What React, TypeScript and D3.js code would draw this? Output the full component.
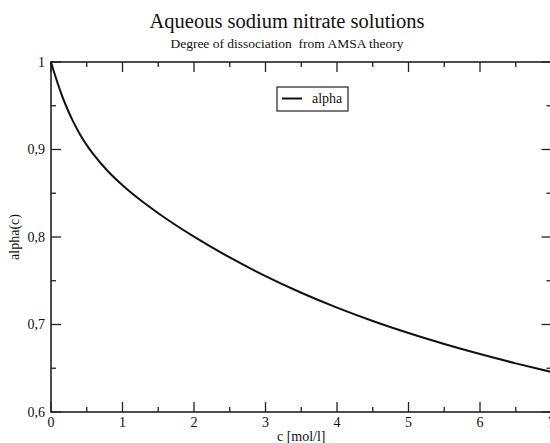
import React from "react";
import * as d3 from "d3";

const concentration = [0, 0.05, 0.1, 0.15, 0.2, 0.3, 0.4, 0.5, 0.6, 0.8, 1, 1.25, 1.5, 2, 2.5, 3, 3.5, 4, 4.5, 5, 5.5, 6, 6.5, 7];
const alphaValues = [1, 0.9865, 0.974, 0.9625, 0.952, 0.9335, 0.918, 0.905, 0.8938, 0.8748, 0.8591, 0.8422, 0.8272, 0.8004, 0.7766, 0.7553, 0.7363, 0.7193, 0.704, 0.6902, 0.6777, 0.6662, 0.6556, 0.6457];
const xMajorTicks = [0, 1, 2, 3, 4, 5, 6, 7];
const xMinorTicks = [0.5, 1.5, 2.5, 3.5, 4.5, 5.5, 6.5];
const yMajorTicks = [0.6, 0.7, 0.8, 0.9, 1];
const yMinorTicks = [0.65, 0.75, 0.85, 0.95];
const yTickLabels = ["0,6", "0,7", "0,8", "0,9", "1"];
const seriesName = "alpha";
const title = "Aqueous sodium nitrate solutions";
const subtitle = "Degree of dissociation  from AMSA theory";
const xTitle = "c [mol/l]";
const yTitle = "alpha(c)";

const W = 550;
const H = 443;
const left = 51;
const right = 551.5;
const top = 62;
const bottom = 412;

export default function App() {
  const x = d3.scaleLinear().domain([0, 7]).range([left, right]);
  const y = d3.scaleLinear().domain([0.6, 1]).range([bottom, top]);
  const data = concentration.map((c, i) => [c, alphaValues[i]] as [number, number]);
  const line = d3
    .line<[number, number]>()
    .x((d) => x(d[0]))
    .y((d) => y(d[1]))
    .curve(d3.curveMonotoneX);
  const font = "'Liberation Serif', 'Times New Roman', serif";
  const axisColor = "#222";
  const maj = 10;
  const min = 5;
  return (
    <svg
      width={W}
      height={H}
      style={{ position: "absolute", left: 0, top: 0, background: "#fff", fontFamily: font }}
    >
      <rect x={0} y={0} width={W} height={H} fill="#fff" />
      <text x={287} y={28} textAnchor="middle" fontSize={20.5} fill="#111">
        {title}
      </text>
      <text x={287} y={48} textAnchor="middle" fontSize={13.5} fill="#111" style={{ whiteSpace: "pre" }}>
        {subtitle}
      </text>
      <g stroke={axisColor} strokeWidth={1.3}>
        {xMajorTicks.map((t) => (
          <g key={"xM" + t}>
            <line x1={x(t)} x2={x(t)} y1={bottom} y2={bottom - maj} />
            <line x1={x(t)} x2={x(t)} y1={top} y2={top + maj} />
          </g>
        ))}
        {xMinorTicks.map((t) => (
          <g key={"xm" + t}>
            <line x1={x(t)} x2={x(t)} y1={bottom} y2={bottom - min} />
            <line x1={x(t)} x2={x(t)} y1={top} y2={top + min} />
          </g>
        ))}
        {yMajorTicks.map((t) => (
          <g key={"yM" + t}>
            <line x1={left} x2={left + maj} y1={y(t)} y2={y(t)} />
            <line x1={right} x2={right - maj} y1={y(t)} y2={y(t)} />
          </g>
        ))}
        {yMinorTicks.map((t) => (
          <g key={"ym" + t}>
            <line x1={left} x2={left + min} y1={y(t)} y2={y(t)} />
            <line x1={right} x2={right - min} y1={y(t)} y2={y(t)} />
          </g>
        ))}
      </g>
      <rect
        x={left}
        y={top}
        width={right - left}
        height={bottom - top}
        fill="none"
        stroke={axisColor}
        strokeWidth={1.6}
      />
      <path d={line(data) ?? ""} fill="none" stroke="#111" strokeWidth={2} />
      <g fontSize={14} fill="#111">
        {xMajorTicks.map((t) => (
          <text key={"xl" + t} x={x(t)} y={bottom + 15} textAnchor="middle">
            {String(t)}
          </text>
        ))}
        {yMajorTicks.map((t, i) => (
          <text key={"yl" + t} x={left - 6} y={y(t) + 4.5} textAnchor="end">
            {yTickLabels[i]}
          </text>
        ))}
      </g>
      <text x={(left + right) / 2} y={441} textAnchor="middle" fontSize={14} fill="#111">
        {xTitle}
      </text>
      <text
        transform={`translate(19, ${(top + bottom) / 2}) rotate(-90)`}
        textAnchor="middle"
        fontSize={14}
        fill="#111"
      >
        {yTitle}
      </text>
      <g>
        <rect x={277} y={87} width={71} height={24} fill="#fff" stroke={axisColor} strokeWidth={1.2} />
        <line x1={282} x2={302} y1={98.5} y2={98.5} stroke="#111" strokeWidth={2} />
        <text x={312} y={103} fontSize={14} fill="#111">
          {seriesName}
        </text>
      </g>
    </svg>
  );
}
